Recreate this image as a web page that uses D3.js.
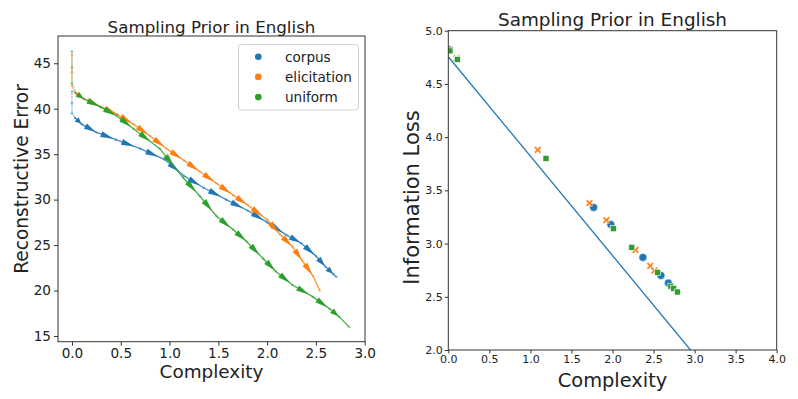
<!DOCTYPE html>
<html>
<head>
<meta charset="utf-8">
<script src="https://cdn.jsdelivr.net/npm/d3@7"></script>
<style>
  body { margin: 0; background: #fff; }
  text { font-family: "DejaVu Sans", sans-serif; fill: #222; }
</style>
</head>
<body>
<div id="chart"></div>
<script>
// ---- data ----
const seriesNames = ["corpus", "elicitation", "uniform"];
const colors = ["#1f77b4", "#ff7f0e", "#2ca02c"];

// left panel: complexity vs reconstructive error curves
const corpusCurve = [[0,41.9],[0,40.6],[0,39.5],[0.03,39.0],[0.1,38.3],[0.25,37.4],[0.45,36.6],[0.7,35.6],[0.95,34.4],
  [1.15,32.6],[1.35,31.3],[1.58,30.0],[1.8,28.8],[2.0,27.5],[2.2,26.1],[2.35,25.2],[2.5,23.8],[2.6,22.6],[2.68,21.8],[2.71,21.5]];
const elicitCurve = [[0,45.9],[0,44.0],[0,42.5],[0.03,41.8],[0.12,41.1],[0.3,40.2],[0.46,39.4],[0.63,38.3],[0.8,37.0],[0.97,35.6],
  [1.15,34.3],[1.31,33.1],[1.48,31.8],[1.65,30.5],[1.8,29.4],[2.0,27.8],[2.13,26.2],[2.26,24.8],[2.36,23.3],[2.47,21.6],[2.54,20.0]];
const uniformCurve = [[0,46.3],[0,44.5],[0,42.8],[0.04,41.7],[0.12,41.1],[0.29,40.2],[0.46,39.2],[0.63,37.8],[0.9,35.6],[1.14,32.4],
  [1.31,30.4],[1.48,28.2],[1.65,26.7],[1.79,25.4],[1.96,23.5],[2.09,22.1],[2.26,20.6],[2.47,19.3],[2.64,18.0],[2.74,17.1],[2.84,16.0]];
const curves = [corpusCurve, elicitCurve, uniformCurve];

// right panel: complexity vs information loss points
const corpusPts = [[0.01,4.82],[1.77,3.34],[1.98,3.18],[2.37,2.87],[2.59,2.70],[2.68,2.63]];
const elicitPts = [[0.02,4.82],[0.1,4.74],[1.09,3.88],[1.72,3.38],[1.925,3.22],[2.28,2.94],[2.46,2.79],[2.51,2.745]];
const uniformPts = [[0.02,4.81],[0.11,4.73],[1.19,3.80],[2.01,3.14],[2.235,2.965],[2.55,2.73],[2.71,2.60],[2.745,2.58],[2.79,2.545]];
const boundLine = [[0,4.755],[4,1.02]];

const leftXTicks = [0, 0.5, 1, 1.5, 2, 2.5, 3];
const leftYTicks = [15, 20, 25, 30, 35, 40, 45];
const rightXTicks = [0, 0.5, 1, 1.5, 2, 2.5, 3, 3.5, 4];
const rightYTicks = [2, 2.5, 3, 3.5, 4, 4.5, 5];

const width = 798, height = 399;
const svg = d3.select("#chart").append("svg")
  .attr("width", width).attr("height", height);

// ---------- left panel ----------
const L = {left: 58, right: 365, top: 36, bottom: 341.7};
const xL = d3.scaleLinear().domain([-0.143, 3.003]).range([L.left, L.right]);
const yL = d3.scaleLinear().domain([14.37, 48.0]).range([L.bottom, L.top]);

const gL = svg.append("g");
gL.append("g").attr("transform", `translate(0,${L.bottom})`)
  .call(d3.axisBottom(xL).tickValues(leftXTicks).tickFormat(d3.format(".1f")).tickSizeOuter(0).tickSize(4).tickPadding(3))
  .call(g => g.select(".domain").remove())
  .call(g => g.selectAll("text").style("font-size", "13.6px").style("font-family", "DejaVu Sans"))
  .call(g => g.selectAll("line").attr("stroke", "#333"));
gL.append("g").attr("transform", `translate(${L.left},0)`)
  .call(d3.axisLeft(yL).tickValues(leftYTicks).tickSizeOuter(0).tickSize(4).tickPadding(3))
  .call(g => g.select(".domain").remove())
  .call(g => g.selectAll("text").style("font-size", "13.6px").style("font-family", "DejaVu Sans"))
  .call(g => g.selectAll("line").attr("stroke", "#333"));

const line = d3.line().x(d => xL(d[0])).y(d => yL(d[1]));

curves.forEach((c, i) => {
  const g = gL.append("g");
  // faint dotted start along the y axis
  g.append("path").datum(c.slice(0, 4))
    .attr("d", line)
    .attr("fill", "none")
    .attr("stroke", colors[i])
    .attr("stroke-width", 1.6)
    .attr("stroke-dasharray", "1.2,1.2")
    .attr("stroke-opacity", 0.55);
  g.append("path").datum(c.slice(3))
    .attr("d", line)
    .attr("fill", "none")
    .attr("stroke", colors[i])
    .attr("stroke-width", 1.3)
    .attr("stroke-opacity", 0.85);
  // small dots along the curve
  g.selectAll("circle").data(c).join("circle")
    .attr("cx", d => xL(d[0])).attr("cy", d => yL(d[1]))
    .attr("r", 1.3)
    .attr("fill", colors[i]).attr("fill-opacity", 0.45);
  // arrow heads along the curve
  const segs = d3.range(3, c.length - 2).map(j => [c[j], c[j + 1]]);
  g.selectAll("path.arrow").data(segs).join("path")
    .attr("class", "arrow")
    .attr("fill", colors[i])
    .attr("d", s => {
      const x0 = xL(s[0][0]), y0 = yL(s[0][1]), x1 = xL(s[1][0]), y1 = yL(s[1][1]);
      const dx = x1 - x0, dy = y1 - y0, len = Math.hypot(dx, dy);
      const ux = dx / len, uy = dy / len;
      const al = Math.min(13, len * 0.7), hw = 3;
      const mx = x0 + dx * 0.25, my = y0 + dy * 0.25;
      const tx = mx + ux * al, ty = my + uy * al;
      return `M${mx - uy * hw},${my + ux * hw}L${tx},${ty}L${mx + uy * hw},${my - ux * hw}Z`;
    });
});

gL.append("rect").attr("x", L.left).attr("y", L.top)
  .attr("width", L.right - L.left).attr("height", L.bottom - L.top)
  .attr("fill", "none").attr("stroke", "#333").attr("stroke-width", 1);

gL.append("text").attr("x", (L.left + L.right) / 2).attr("y", 33)
  .attr("text-anchor", "middle").style("font-size", "16.7px").text("Sampling Prior in English");
gL.append("text").attr("x", (L.left + L.right) / 2).attr("y", 378)
  .attr("text-anchor", "middle").style("font-size", "18.4px").text("Complexity");
gL.append("text").attr("transform", `translate(28,179) rotate(-90)`)
  .attr("text-anchor", "middle").style("font-size", "18.6px").text("Reconstructive Error");

// legend
const lg = gL.append("g");
lg.append("rect").attr("x", 238.5).attr("y", 44.5).attr("width", 120).attr("height", 65.5)
  .attr("rx", 3).attr("fill", "#fff").attr("fill-opacity", 0.8)
  .attr("stroke", "#d0d0d0").attr("stroke-width", 1);
seriesNames.forEach((n, i) => {
  const cy = 56.7 + i * 20.2;
  lg.append("circle").attr("cx", 258.3).attr("cy", cy).attr("r", 3.3).attr("fill", colors[i]);
  lg.append("text").attr("x", 285).attr("y", cy + 5).style("font-size", "13.6px").text(n);
});

// ---------- right panel ----------
const R = {left: 448.3, right: 776.7, top: 30.7, bottom: 350};
const xR = d3.scaleLinear().domain([0, 4]).range([R.left, R.right]);
const yR = d3.scaleLinear().domain([2, 5]).range([R.bottom, R.top]);

const gR = svg.append("g");
gR.append("g").attr("transform", `translate(0,${R.bottom})`)
  .call(d3.axisBottom(xR).tickValues(rightXTicks).tickFormat(d3.format(".1f")).tickSizeOuter(0).tickSize(3.5).tickPadding(2))
  .call(g => g.select(".domain").remove())
  .call(g => g.selectAll("text").style("font-size", "11px").style("font-family", "DejaVu Sans"))
  .call(g => g.selectAll("line").attr("stroke", "#333"));
gR.append("g").attr("transform", `translate(${R.left},0)`)
  .call(d3.axisLeft(yR).tickValues(rightYTicks).tickFormat(d3.format(".1f")).tickSizeOuter(0).tickSize(3.5).tickPadding(2))
  .call(g => g.select(".domain").remove())
  .call(g => g.selectAll("text").style("font-size", "11px").style("font-family", "DejaVu Sans"))
  .call(g => g.selectAll("line").attr("stroke", "#333"));

svg.append("clipPath").attr("id", "clipR").append("rect")
  .attr("x", R.left).attr("y", R.top).attr("width", R.right - R.left).attr("height", R.bottom - R.top);

const lineR = d3.line().x(d => xR(d[0])).y(d => yR(d[1]));
gR.append("path").datum(boundLine).attr("d", lineR)
  .attr("clip-path", "url(#clipR)")
  .attr("fill", "none").attr("stroke", colors[0]).attr("stroke-width", 1.3);

const ptsG = gR.append("g").attr("clip-path", "url(#clipR)");
// corpus: circles
ptsG.selectAll("circle.c").data(corpusPts).join("circle").attr("class", "c")
  .attr("cx", d => xR(d[0])).attr("cy", d => yR(d[1])).attr("r", 4)
  .attr("fill", colors[0]).attr("stroke", "#fff").attr("stroke-width", 0.6);
// elicitation: X markers
const xShape = "M-3.6,-2.2L-2.2,-3.6L0,-1.4L2.2,-3.6L3.6,-2.2L1.4,0L3.6,2.2L2.2,3.6L0,1.4L-2.2,3.6L-3.6,2.2L-1.4,0Z";
ptsG.selectAll("path.e").data(elicitPts).join("path").attr("class", "e")
  .attr("transform", d => `translate(${xR(d[0])},${yR(d[1])})`)
  .attr("d", xShape)
  .attr("fill", colors[1]).attr("stroke", "#fff").attr("stroke-width", 0.4);
// uniform: squares
ptsG.selectAll("rect.u").data(uniformPts).join("rect").attr("class", "u")
  .attr("x", d => xR(d[0]) - 3).attr("y", d => yR(d[1]) - 3)
  .attr("width", 6).attr("height", 6)
  .attr("fill", colors[2]).attr("stroke", "#fff").attr("stroke-width", 0.6);

gR.append("rect").attr("x", R.left).attr("y", R.top)
  .attr("width", R.right - R.left).attr("height", R.bottom - R.top)
  .attr("fill", "none").attr("stroke", "#333").attr("stroke-width", 1);

gR.append("text").attr("x", (R.left + R.right) / 2).attr("y", 26)
  .attr("text-anchor", "middle").style("font-size", "18.4px").text("Sampling Prior in English");
gR.append("text").attr("x", (R.left + R.right) / 2).attr("y", 386.5)
  .attr("text-anchor", "middle").style("font-size", "19.4px").text("Complexity");
gR.append("text").attr("transform", `translate(418.5,197.5) rotate(-90)`)
  .attr("text-anchor", "middle").style("font-size", "21px").text("Information Loss");
</script>
</body>
</html>
